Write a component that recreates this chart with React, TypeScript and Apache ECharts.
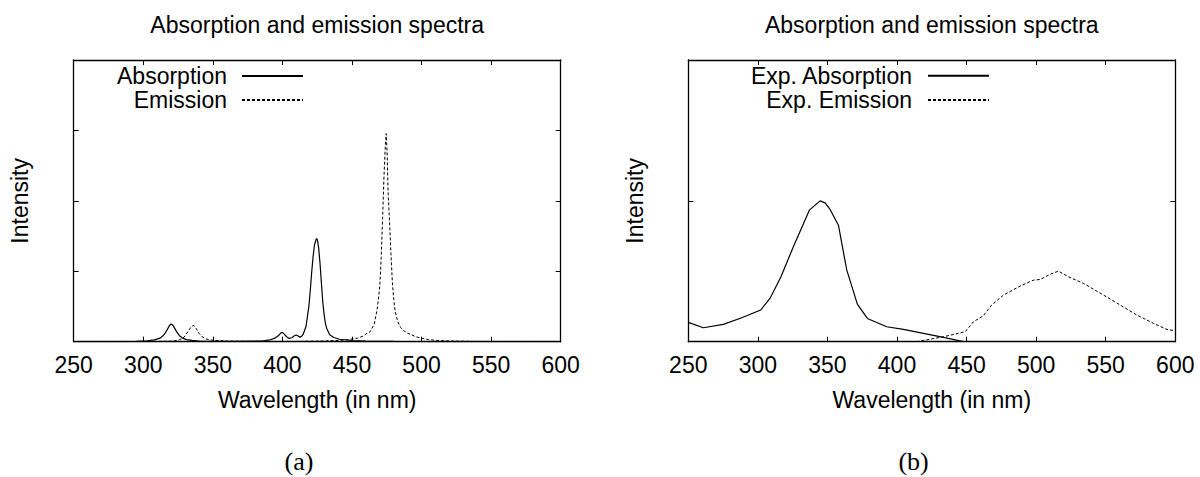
import React, { useEffect, useRef } from "react";
import * as echarts from "echarts";

const xTicks = [250, 300, 350, 400, 450, 500, 550, 600];
const titleText = "Absorption and emission spectra";
const xName = "Wavelength (in nm)";
const yName = "Intensity";
const namesA = ["Absorption", "Emission"];
const namesB = ["Exp. Absorption", "Exp. Emission"];
const captions = ["(a)", "(b)"];
const yMaxA = 4;
const yMaxB = 2;

const absorptionA = [
  [250, 0], [280, 0.002], [295, 0.005], [303, 0.012], [308, 0.025], [312, 0.05], [314, 0.08],
  [316, 0.13], [318, 0.2], [319, 0.235], [320, 0.25], [321, 0.24], [322, 0.21], [324, 0.14],
  [326, 0.085], [328, 0.055], [331, 0.03], [335, 0.018], [340, 0.01], [350, 0.005], [370, 0.004],
  [385, 0.01], [391, 0.025], [395, 0.055], [397, 0.085], [399, 0.125], [400, 0.133], [401, 0.115],
  [403, 0.07], [405, 0.045], [407, 0.06], [409, 0.09], [410, 0.095], [411, 0.085], [412.6, 0.065],
  [414, 0.08], [415, 0.11], [417, 0.22], [419, 0.5], [420, 0.72], [421, 0.98], [422, 1.2],
  [423, 1.37], [424, 1.44], [424.6, 1.467], [425.2, 1.44], [426, 1.34], [427, 1.12], [428, 0.84],
  [429, 0.56], [430, 0.38], [431, 0.25], [432, 0.18], [434, 0.1], [437, 0.06], [441, 0.035],
  [450, 0.017], [460, 0.009], [480, 0.004], [520, 0.001], [600, 0],
];

const emissionA = [
  [250, 0], [300, 0.002], [320, 0.008], [325, 0.02], [328, 0.045], [330, 0.08], [332, 0.14],
  [334, 0.2], [335, 0.22], [336, 0.23], [337, 0.22], [338, 0.19], [340, 0.12], [342, 0.075],
  [345, 0.04], [350, 0.02], [360, 0.008], [380, 0.003], [410, 0.004], [430, 0.01], [440, 0.018],
  [448, 0.03], [454, 0.05], [458, 0.08], [460, 0.11], [463, 0.14], [466, 0.25], [468, 0.45],
  [469, 0.6], [470, 0.8], [471, 1.2], [472, 1.75], [473, 2.35], [474, 2.8], [474.6, 2.955],
  [475.2, 2.7], [476, 2.1], [477, 1.7], [478, 1.25], [479, 0.85], [480, 0.6], [481, 0.43],
  [483, 0.28], [485, 0.2], [487, 0.16], [490, 0.12], [496, 0.07], [500, 0.05], [505, 0.03],
  [510, 0.02], [520, 0.01], [540, 0.004], [570, 0.001], [600, 0],
];

const expAbsorption = [
  [250, 0.137], [260.8, 0.099], [275.2, 0.123], [288.4, 0.17], [302, 0.225], [308.7, 0.307],
  [316.6, 0.461], [325.5, 0.674], [337, 0.934], [344.7, 1.0], [348.3, 0.986], [351.9, 0.939],
  [357.9, 0.827], [363.9, 0.508], [371.5, 0.267], [378.7, 0.165], [392.6, 0.106], [404.6, 0.087],
  [419, 0.059], [433.4, 0.031], [447.8, 0],
];

const expEmission = [
  [414, 0], [433.4, 0.035], [449, 0.071], [455, 0.142], [462, 0.184], [468, 0.26], [476.5, 0.331],
  [488.5, 0.395], [498, 0.437], [502.9, 0.442], [510, 0.478], [516, 0.501], [523.2, 0.461],
  [534, 0.414], [548.4, 0.331], [560.4, 0.26], [572.4, 0.189], [584.4, 0.13], [594, 0.087],
  [600, 0.078],
];

const FONT = "'Liberation Sans', Arial, Helvetica, sans-serif";
const FS = 23;
const OFFSET = 614.6;
const GRID_LEFT = 73.7;
const GRID_TOP = 60;
const GRID_W = 487;
const GRID_H = 281.7;

export default function App() {
  const ref = useRef<HTMLDivElement>(null);

  useEffect(() => {
    if (!ref.current) return;
    const chart = echarts.init(ref.current, undefined, { renderer: "svg" });

    const axisLine = { show: true, onZero: false, lineStyle: { color: "#000", width: 1.3 } };
    const tick = { show: true, inside: true, length: 5, lineStyle: { color: "#000", width: 1 } };
    const xMin = xTicks[0];
    const xMax = xTicks[xTicks.length - 1];
    const xInterval = xTicks[1] - xTicks[0];

    const xAxes: any[] = [];
    const yAxes: any[] = [];
    const grids: any[] = [];
    [0, 1].forEach((g) => {
      grids.push({ left: GRID_LEFT + g * OFFSET, top: GRID_TOP, width: GRID_W, height: GRID_H, containLabel: false });
      const yMax = g === 0 ? yMaxA : yMaxB;
      xAxes.push({
        type: "value", gridIndex: g, position: "bottom", min: xMin, max: xMax, interval: xInterval,
        axisLine, axisTick: tick, splitLine: { show: false },
        axisLabel: { show: true, color: "#000", fontFamily: FONT, fontSize: FS, margin: 12 },
        name: xName, nameLocation: "middle", nameGap: 47,
        nameTextStyle: { color: "#000", fontFamily: FONT, fontSize: FS },
      });
      xAxes.push({
        type: "value", gridIndex: g, position: "top", min: xMin, max: xMax, interval: xInterval,
        axisLine, axisTick: tick, splitLine: { show: false }, axisLabel: { show: false },
      });
      yAxes.push({
        type: "value", gridIndex: g, position: "left", min: 0, max: yMax, interval: 1,
        axisLine, axisTick: tick, splitLine: { show: false }, axisLabel: { show: false },
        name: yName, nameLocation: "middle", nameGap: 42, nameRotate: 90,
        nameTextStyle: { color: "#000", fontFamily: FONT, fontSize: FS },
      });
      yAxes.push({
        type: "value", gridIndex: g, position: "right", min: 0, max: yMax, interval: 1,
        axisLine, axisTick: tick, splitLine: { show: false }, axisLabel: { show: false },
      });
    });

    const solid = { color: "#000", width: 1.2, type: "solid" };
    const dashed = { color: "#000", width: 1, type: [3, 2] };
    const mk = (name: string, data: number[][], g: number, ls: any) => ({
      type: "line", name, data, xAxisIndex: g * 2, yAxisIndex: g * 2,
      symbol: "none", showSymbol: false, smooth: false, clip: true,
      lineStyle: ls, itemStyle: { color: "#000" }, emphasis: { disabled: true },
    });

    const series = [
      mk(namesA[0], absorptionA, 0, solid),
      mk(namesA[1], emissionA, 0, dashed),
      mk(namesB[0], expAbsorption, 1, solid),
      mk(namesB[1], expEmission, 1, dashed),
    ];

    const legendItems = [
      { name: namesA[0], right: 1200 - 304, top: 64.6, gap: 10 },
      { name: namesA[1], right: 1200 - 304, top: 88.4, gap: 10 },
      { name: namesB[0], right: 1200 - 990, top: 64.2, gap: 11 },
      { name: namesB[1], right: 1200 - 990, top: 88.4, gap: 11 },
    ];
    const legends = legendItems.map((it) => ({
      data: [it.name], orient: "vertical", align: "right", right: it.right, top: it.top,
      padding: 0, itemWidth: 61, itemHeight: 23, selectedMode: false,
      itemStyle: { color: "rgba(0,0,0,0)", borderWidth: 0, opacity: 0 },
      textStyle: { color: "#000", fontFamily: FONT, fontSize: FS, padding: [0, it.gap, 0, 0] },
    }));

    const graphic: any[] = [];
    [0, 1].forEach((g) => {
      graphic.push({
        type: "text", x: GRID_LEFT + GRID_W / 2 + g * OFFSET, y: 25.3, silent: true,
        style: { text: titleText, fill: "#000", font: `${FS}px ${FONT}`, textAlign: "center", textVerticalAlign: "middle" },
      });
      graphic.push({
        type: "text", x: 299 + g * OFFSET, y: 461.5, silent: true,
        style: { text: captions[g], fill: "#000", font: `26px 'Liberation Serif', 'DejaVu Serif', serif`, textAlign: "center", textVerticalAlign: "middle" },
      });
    });

    chart.setOption({
      animation: false,
      backgroundColor: "#fff",
      grid: grids,
      xAxis: xAxes,
      yAxis: yAxes,
      legend: legends,
      series,
      graphic,
    });

    return () => chart.dispose();
  }, []);

  return <div ref={ref} style={{ position: "absolute", left: 0, top: 0, width: 1200, height: 477 }} />;
}
